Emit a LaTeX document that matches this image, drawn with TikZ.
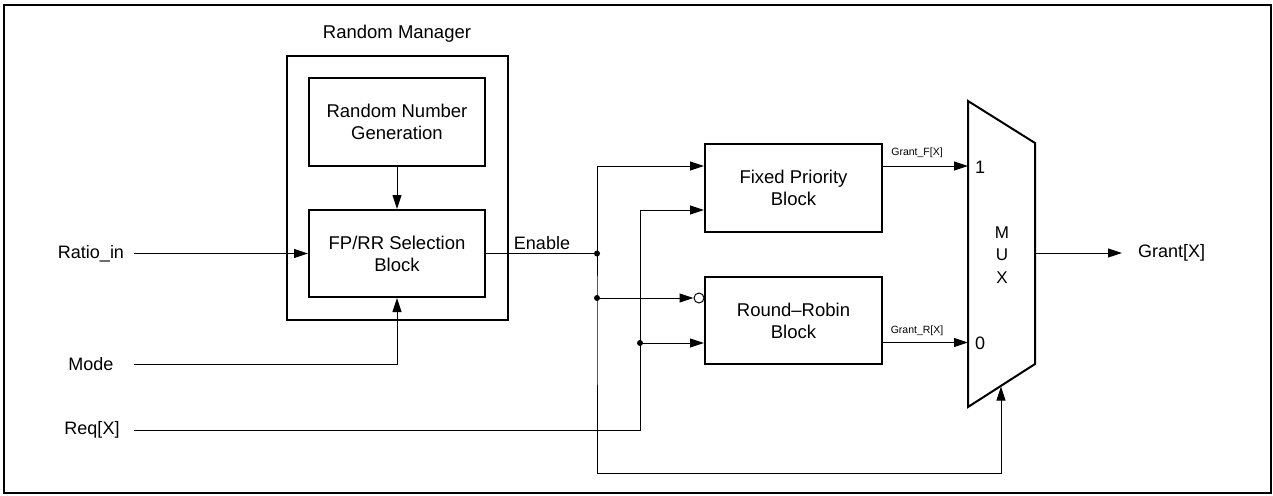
\documentclass[tikz,border=0pt]{standalone}
\usepackage{fontspec}
\setmainfont{Liberation Sans}
\usetikzlibrary{arrows.meta,calc}
\begin{document}
\begin{tikzpicture}[x=1pt,y=-1pt,
  lbl/.style={font=\fontsize{18}{20}\selectfont, inner sep=0pt},
  blk/.style={draw, line width=2pt, minimum width=176pt, minimum height=88pt, align=center, font=\fontsize{18.5}{22}\selectfont, inner sep=0pt},
  wire/.style={line width=1pt},
  arr/.style={wire, -{Triangle[length=14pt,width=9pt]}},
  jdot/.style={circle, fill, inner sep=0pt, minimum size=6pt},
  small/.style={font=\fontsize{10.5}{11}\selectfont, inner sep=0pt}]
\useasboundingbox (0,0) rectangle (1273,495);
\draw[line width=1.4pt] (4,5) rectangle (1271,493);

% Random manager
\node[font=\fontsize{18.5}{20}\selectfont, inner sep=0pt] (title) at (397,34) {Random Manager};
\node[draw, line width=2pt, minimum width=221pt, minimum height=264pt, inner sep=0pt] (rm) at (397.5,188) {};
\node[blk] (rng) at (397,122) {Random Number\\Generation};
\node[blk, minimum height=87pt] (sel) at (397,253.5) {FP/RR Selection\\Block};
\draw[arr] (rng.south) -- (sel.north);

% arbiters
\node[blk, minimum width=177pt] (fp) at (793.5,188) {Fixed Priority\\Block};
\node[blk, minimum width=177pt, minimum height=87pt] (rr) at (793.5,320.5) {Round--Robin\\Block};

% MUX
\coordinate (m1) at (968,101);
\coordinate (m2) at (1035,143);
\coordinate (m3) at (1035,364);
\coordinate (m4) at (968,407);
\draw[line width=2pt, line join=miter] (m1) -- (m2) -- (m3) -- (m4) -- cycle;
\node[font=\fontsize{17}{22.5}\selectfont, align=center, inner sep=0pt] (muxt) at (1002,255) {M\\U\\X};
\coordinate (mux1) at (968,166);
\coordinate (mux0) at (968,342.5);
\coordinate (muxout) at (1035,253);
\coordinate (muxsel) at (1001,386.5);
\node[lbl] (one) at (980,167) {1};
\node[lbl] (zero) at (980,343) {0};

% output
\node[lbl, anchor=west] (grant) at (1138,253) {Grant[X]};
\draw[arr] (muxout) -- ([xshift=-16pt]grant.west);

% arbiter outputs
\draw[arr] ([yshift=22pt]fp.east) -- (mux1);
\node[small] (gf) at (917,153) {Grant\_F[X]};
\draw[arr] ([yshift=-22pt]rr.east) -- (mux0);
\node[small] (gr) at (917,331) {Grant\_R[X]};

% inputs
\node[lbl] (ratio) at (91,253.5) {Ratio\_in};
\node[lbl] (mode) at (91,364) {Mode};
\node[lbl] (req) at (92,430) {Req[X]};
\draw[arr] ([xshift=10pt]ratio.east) -- (sel.west);
\draw[arr] ([xshift=20pt]mode.east) -| (sel.south);

% Req path
\coordinate (rq) at (640,430);
\coordinate (fpin1) at ([yshift=22pt]fp.west);
\coordinate (fpin2) at ([yshift=-22pt]fp.west);
\coordinate (rrin2) at ([yshift=-22.5pt]rr.west);
\draw[arr] ([xshift=14pt]req.east) -- (rq) |- (fpin2);
\coordinate (d2) at (rq |- rrin2);
\draw[arr] (d2) -- (rrin2);
\node[jdot] at (d2) {};

% Enable path
\coordinate (en) at (597,253.5);
\node[lbl] (enl) at (542,243) {Enable};
\draw[wire] (sel.east) -- (en);
\draw[arr] (en) |- (fpin1);
\node[circle, draw, line width=1pt, minimum size=10pt, inner sep=0pt, fill=white] (bub) at ([xshift=-5pt,yshift=22.5pt]rr.west) {};
\coordinate (d1) at (en |- bub);
\draw[arr] (d1) -- (bub.west);
\coordinate (lp) at (597,473);
\draw[arr] (en) -- (d1) -- (lp) -| (muxsel);
\node[jdot] at (en) {};
\node[jdot] at (d1) {};
\end{tikzpicture}
\end{document}
